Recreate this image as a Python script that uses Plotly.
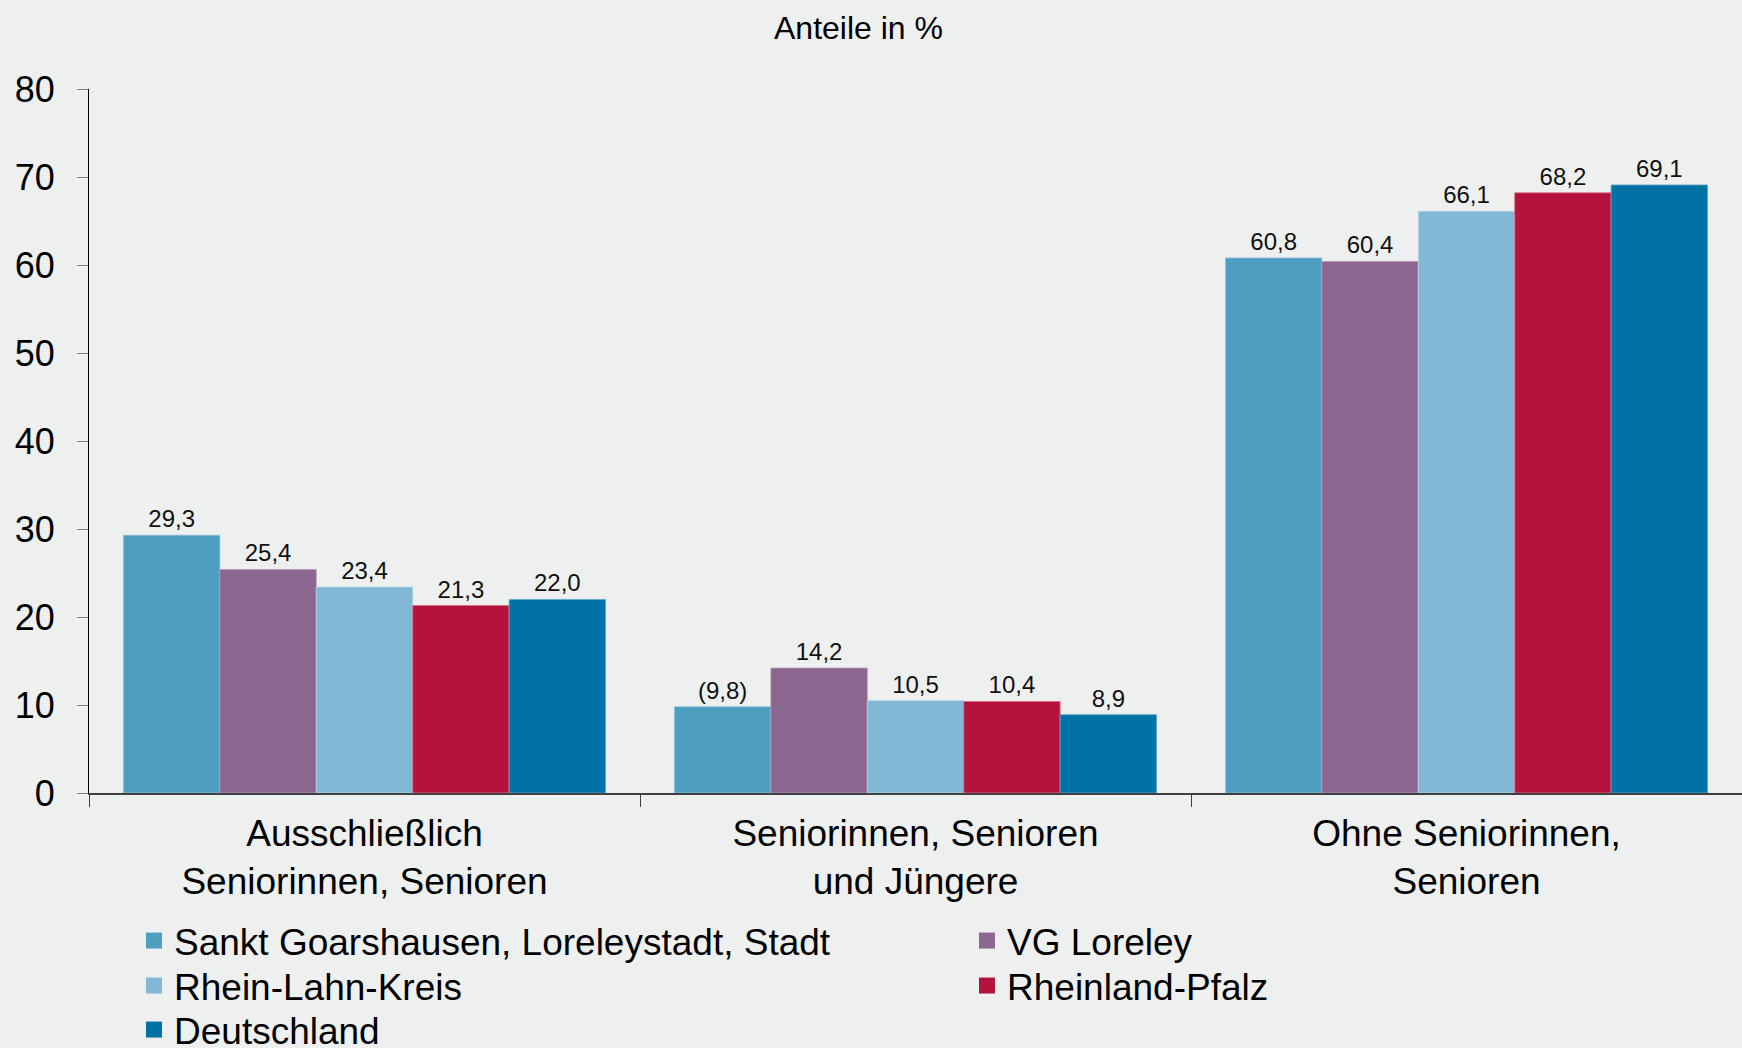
import plotly.graph_objects as go

categories = ["Ausschließlich<br>Seniorinnen, Senioren",
              "Seniorinnen, Senioren<br>und Jüngere",
              "Ohne Seniorinnen,<br>Senioren"]
series_names = ["Sankt Goarshausen, Loreleystadt, Stadt", "VG Loreley",
                "Rhein-Lahn-Kreis", "Rheinland-Pfalz", "Deutschland"]
sankt = [29.3, 9.8, 60.8]
vg = [25.4, 14.2, 60.4]
rlk = [23.4, 10.5, 66.1]
rlp = [21.3, 10.4, 68.2]
de = [22.0, 8.9, 69.1]
# values shown in parentheses in the original (low case numbers)
bracketed = {(0, 1)}
yticks = [0, 10, 20, 30, 40, 50, 60, 70, 80]

colors = ["#4E9EC1", "#8B668E", "#82B8D5", "#B5133C", "#0072A6"]
line_colors = ["#8FC3DA", "#B59BB8", "#B5D6E7", "#D7708A", "#5FA7CC"]

FONT = "Liberation Sans, Arial, sans-serif"
# legend layout: two columns, rows filled left to right (pixel anchors of the page)
PLOT_L, PLOT_W, PLOT_B, PLOT_H = 89, 1653, 793, 704
legend_cols_px = [134, 967, 134, 967, 134]
legend_rows_px = [941, 941, 986, 986, 1030]

fig = go.Figure()
all_values = [sankt, vg, rlk, rlp, de]
legend_layout = {}
for i, (name, vals) in enumerate(zip(series_names, all_values)):
    texts = []
    for j, v in enumerate(vals):
        s = f"{v:.1f}".replace(".", ",")
        if (i, j) in bracketed:
            s = f"({s})"
        texts.append(s)
    fig.add_trace(go.Bar(
        x=categories, y=vals, name=name, text=texts,
        textposition="outside", cliponaxis=False,
        textfont=dict(size=24, color="#111111", family=FONT),
        marker=dict(color=colors[i], line=dict(color=line_colors[i], width=0.8)),
        showlegend=False, legendgroup=name,
    ))
    lid = "legend" if i == 0 else f"legend{i + 1}"
    # legend-only entry (no visible point) with a larger square symbol
    fig.add_trace(go.Scatter(
        x=[categories[0]], y=[None], mode="markers", name=name, legendgroup=name,
        marker=dict(symbol="square", size=18, color=colors[i]),
        legend=lid, showlegend=True, hoverinfo="skip",
    ))
    legend_layout[lid] = dict(
        x=(legend_cols_px[i] - PLOT_L) / PLOT_W,
        y=-(legend_rows_px[i] - PLOT_B) / PLOT_H,
        xanchor="left", yanchor="middle", orientation="v",
        font=dict(size=37, family=FONT, color="#000000"),
        bgcolor="rgba(0,0,0,0)", borderwidth=0, itemsizing="trace",
    )

fig.update_layout(
    width=1742, height=1048,
    paper_bgcolor="#EEF0EF", plot_bgcolor="#EEF0EF",
    margin=dict(l=PLOT_L, r=0, t=89, b=1048 - PLOT_B, autoexpand=False),
    barmode="group", bargap=0.125, bargroupgap=0,
    uniformtext=dict(minsize=24, mode="show"),
    font=dict(family=FONT, color="#000000"),
    annotations=[dict(text="Anteile in %", xref="paper", yref="paper",
                      x=(858 - PLOT_L) / PLOT_W, y=1 + (89 - 28) / PLOT_H,
                      xanchor="center", yanchor="middle",
                      showarrow=False, font=dict(size=32, family=FONT, color="#000000"))],
    **legend_layout,
)
fig.update_yaxes(range=[0, 80], tickvals=yticks, ticktext=[str(t) for t in yticks],
                 showgrid=False, zeroline=False, showline=True, linecolor="#000000",
                 linewidth=1, ticks="outside", ticklen=11, tickcolor="#808080",
                 tickfont=dict(size=36, family=FONT, color="#000000"),
                 ticklabelstandoff=15, automargin=False)
fig.update_xaxes(showgrid=False, showline=True, linecolor="#404040", linewidth=1.5,
                 ticks="outside", tickson="boundaries", ticklen=12, tickcolor="#404040",
                 tickangle=0, automargin=False, ticklabelstandoff=7,
                 tickfont=dict(size=37, family=FONT, color="#000000"))

fig.write_html("out.html", config={"displayModeBar": False},
               post_script="document.body.style.margin='0';document.body.style.background='#EEF0EF';")
